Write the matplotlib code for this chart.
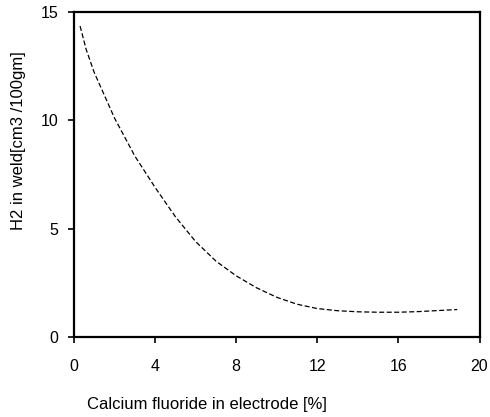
import matplotlib
matplotlib.use("Agg")
import matplotlib.pyplot as plt

plt.rcParams['font.family'] = ['Liberation Sans', 'DejaVu Sans']

# values
caf2 = [0.3, 0.6, 1, 2, 3, 4, 5, 6, 7, 8, 9, 10, 11, 12, 13, 14, 15, 16, 17, 18, 18.9]
h2 = [14.35, 13.27, 12.2, 10.1, 8.35, 6.9, 5.55, 4.4, 3.5, 2.82, 2.27, 1.83, 1.51,
      1.31, 1.21, 1.16, 1.14, 1.14, 1.17, 1.22, 1.265]

xticks = [0, 4, 8, 12, 16, 20]
yticks = [0, 5, 10, 15]

fig = plt.figure(figsize=(4.9, 4.17), dpi=100)
ax = fig.add_axes([0.151, 0.192, 0.8276, 0.7794])

ax.plot(caf2, h2, color='black', lw=0.9, ls=(0, (4, 2)))

ax.set_xlim(0, 20)
ax.set_ylim(0, 15)
ax.set_xticks(xticks)
ax.set_yticks(yticks)
ax.tick_params(direction='out', length=4, width=1.2, labelsize=11.5)
ax.tick_params(axis='x', pad=12)
ax.tick_params(axis='y', pad=7)
for s in ax.spines.values():
    s.set_linewidth(1.6)

ax.set_xlabel('Calcium fluoride in electrode [%]', fontsize=12)
ax.set_ylabel('H2 in weld[cm3 /100gm]', fontsize=12)
ax.xaxis.set_label_coords(0.327, -0.185)
ax.yaxis.set_label_coords(-0.118, 0.603)

fig.savefig('out.png', dpi=100)
